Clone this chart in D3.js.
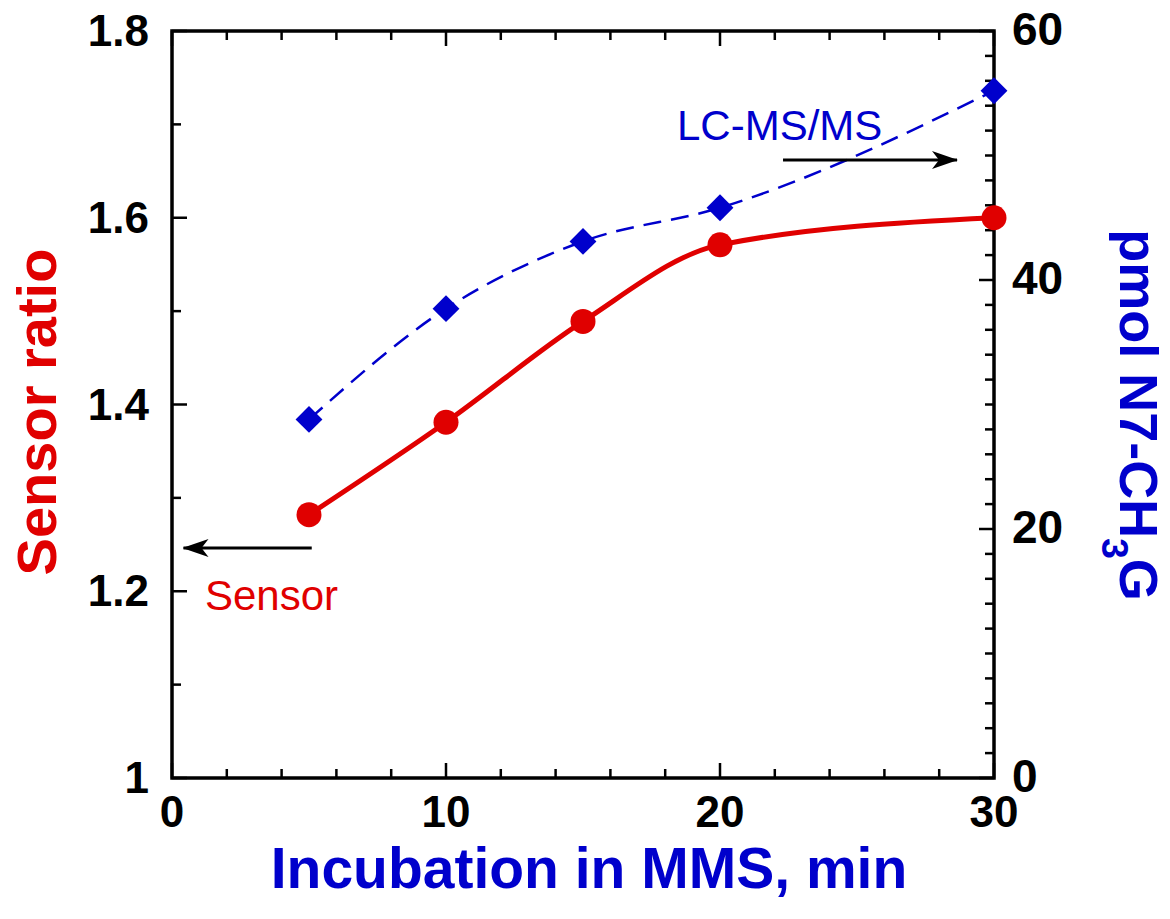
<!DOCTYPE html>
<html><head><meta charset="utf-8">
<script src="https://cdn.jsdelivr.net/npm/d3@7"></script>
<style>body{margin:0;background:#fff}svg{display:block}text{font-family:"Liberation Sans",Arial,sans-serif}</style>
</head><body><svg id="c" width="1170" height="919"></svg>
<script>
const times = [5, 10, 15, 20, 30];
const sensorRatio = [1.282, 1.381, 1.489, 1.571, 1.600];
const lcmsPmol = [28.8, 37.7, 43.1, 45.8, 55.2];
const xTicks = [0, 10, 20, 30];
const yLeftTicks = [1, 1.2, 1.4, 1.6, 1.8];
const yRightTicks = [0, 20, 40, 60];

const red = "#e00000", blue = "#0000cc";
const svg = d3.select("#c");
const L = 172, R = 994, T = 31, B = 778;
const x = d3.scaleLinear().domain([0, 30]).range([L, R]);
const yL = d3.scaleLinear().domain([1, 1.8]).range([B, T]);
const yR = d3.scaleLinear().domain([0, 60]).range([B, T]);

const g = svg.append("g");
const tick = (x1,y1,x2,y2)=>g.append("line").attr("x1",x1).attr("y1",y1).attr("x2",x2).attr("y2",y2).attr("stroke","#000").attr("stroke-width",2.5);
d3.range(0, 31, 2).forEach(v=>{ const len = v%10===0?15:9; tick(x(v),B,x(v),B-len); tick(x(v),T,x(v),T+len); });
d3.range(1, 1.801, 0.1).forEach(v=>{ const major = Math.abs(Math.round(v*10)%2)===0; tick(L,yL(v),L+(major?15:9),yL(v)); });
d3.range(0, 61, 2).forEach(v=>{ const len = v%20===0?15:9; tick(R,yR(v),R-len,yR(v)); });
g.append("rect").attr("x",L).attr("y",T).attr("width",R-L).attr("height",B-T).attr("fill","none").attr("stroke","#000").attr("stroke-width",3.5);

const applyStyle=(s,o)=>{for(const k in o) s.style(k,o[k]); return s;};
const tl = {"font-size":"44px","font-weight":"bold","fill":"#000"};
const tr = {"font-size":"46px","font-weight":"bold","fill":"#000"};
xTicks.forEach(v=>applyStyle(svg.append("text").attr("x",x(v)).attr("y",827).attr("text-anchor","middle").text(v),tl));
yLeftTicks.forEach(v=>applyStyle(svg.append("text").attr("x",149).attr("y",yL(v)+15).attr("text-anchor","end").text(d3.format("~g")(v)),tl));
yRightTicks.forEach(v=>applyStyle(svg.append("text").attr("x",1012).attr("y",yR(v)+14).attr("text-anchor","start").text(v),tr));

const redLine = d3.line().x((d,i)=>x(times[i])).y(d=>yL(d)).curve(d3.curveMonotoneX);
svg.append("path").attr("d",redLine(sensorRatio)).attr("fill","none").attr("stroke",red).attr("stroke-width",5);
const blueLine = d3.line().x((d,i)=>x(times[i])).y(d=>yR(d)).curve(d3.curveMonotoneX);
svg.append("path").attr("d",blueLine(lcmsPmol)).attr("fill","none").attr("stroke",blue).attr("stroke-width",2.5).attr("stroke-dasharray","18,10");

sensorRatio.forEach((d,i)=>svg.append("circle").attr("cx",x(times[i])).attr("cy",yL(d)).attr("r",12.5).attr("fill",red));
lcmsPmol.forEach((d,i)=>svg.append("path").attr("d",d3.symbol().type(d3.symbolSquare).size(360)()).attr("transform",`translate(${x(times[i])},${yR(d)}) rotate(45)`).attr("fill",blue));

const defs = svg.append("defs");
defs.append("marker").attr("id","ah").attr("viewBox","0 0 26 18").attr("refX",25).attr("refY",9).attr("markerWidth",26).attr("markerHeight",18).attr("markerUnits","userSpaceOnUse").attr("orient","auto")
  .append("path").attr("d","M0,0 L26,9 L0,18 L7,9 Z").attr("fill","#000");
svg.append("line").attr("x1",x(22.3)).attr("y1",160).attr("x2",x(28.65)).attr("y2",160).attr("stroke","#000").attr("stroke-width",2.8).attr("marker-end","url(#ah)");
svg.append("line").attr("x1",x(5.1)).attr("y1",548).attr("x2",x(0.42)).attr("y2",548).attr("stroke","#000").attr("stroke-width",2.8).attr("marker-end","url(#ah)");

svg.append("text").attr("x",677).attr("y",140).style("font-size","42px").style("fill",blue).text("LC-MS/MS");
svg.append("text").attr("x",205).attr("y",610).style("font-size","42px").style("fill",red).text("Sensor");

svg.append("text").attr("transform","translate(56,412) rotate(-90)").attr("text-anchor","middle").style("font-size","56px").style("font-weight","bold").style("fill",red).text("Sensor ratio");
svg.append("text").attr("x",589).attr("y",888).attr("text-anchor","middle").style("font-size","57px").style("font-weight","bold").style("fill",blue).text("Incubation in MMS, min");
const rt = svg.append("text").attr("transform","translate(1120,415) rotate(90)").attr("text-anchor","middle").style("font-size","54px").style("font-weight","bold").style("fill",blue);
rt.append("tspan").text("pmol N7-CH");
rt.append("tspan").attr("dy",18).style("font-size","37px").text("3");
rt.append("tspan").attr("dy",-18).text("G");
</script></body></html>
